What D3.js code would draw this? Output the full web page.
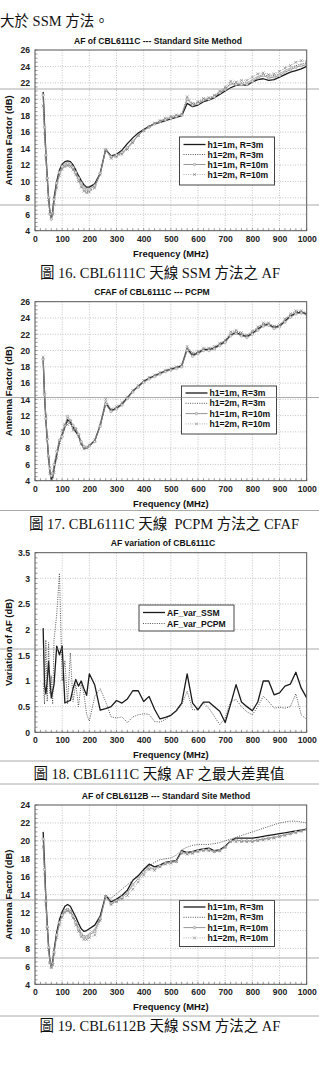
<!DOCTYPE html>
<html lang="zh-Hant">
<head>
<meta charset="UTF-8" />
<script src="https://d3js.org/d3.v7.min.js"></script>
<style>
  body { margin: 0; background: #fff; }
  svg { display: block; }
  .tk text { font-family: "Liberation Sans", Arial, sans-serif; font-weight: bold; font-size: 8.6px; fill: #222; }
  .ttl { font-family: "Liberation Sans", Arial, sans-serif; font-weight: bold; fill: #111; }
  .cap { font-family: "Liberation Serif", "Noto Sans CJK TC", serif; font-size: 14.5px; fill: #111; }
  .lg { font-family: "Liberation Sans", Arial, sans-serif; font-weight: bold; font-size: 8.6px; fill: #111; }
</style>
</head>
<body>
<svg id="page" width="319" height="1068"></svg>
<script>
// frequency points (MHz)
var freqs = [30,35,40,45,50,55,60,65,70,80,90,100,110,120,130,140,150,160,170,180,190,200,
  220,240,260,280,300,320,340,360,380,400,420,440,460,480,500,520,540,560,580,600,620,640,
  660,680,700,720,740,760,780,800,820,840,860,880,900,920,940,960,980,1000];
var xTickValues = [0,100,200,300,400,500,600,700,800,900,1000];

// Fig 16: AF of CBL6111C, standard site method
var c1_h1R3 = [20.9,17.0,13.5,10.5,8.0,6.2,5.5,6.3,8.0,10.0,11.4,12.1,12.4,12.5,12.4,12.0,11.4,10.7,10.1,9.6,9.3,9.3,
  9.7,11.0,13.9,13.1,13.3,13.8,14.6,15.3,15.9,16.3,16.7,17.0,17.2,17.4,17.6,17.8,18.0,19.5,19.1,19.3,19.7,19.9,
  20.2,20.6,21.0,21.4,21.7,21.8,21.7,22.1,22.4,22.5,22.3,22.4,22.7,23.0,23.3,23.5,23.7,24.0];
var c1_h2R3 = [19.3,16.0,13.0,10.3,8.0,6.3,5.6,6.0,7.5,9.5,10.9,11.6,11.9,12.0,11.9,11.5,10.9,10.2,9.5,9.0,8.7,8.8,
  9.3,10.9,13.8,13.0,13.1,13.4,14.0,14.8,15.6,16.3,16.7,17.1,17.3,17.6,17.8,18.0,18.1,20.1,19.4,19.6,20.0,20.1,
  20.4,20.9,21.3,21.9,21.9,22.0,22.0,22.4,22.8,23.0,22.8,22.9,23.1,23.5,23.8,24.1,24.3,24.4];
var c1_h1R10 = [20.5,16.6,13.2,10.4,8.0,6.0,5.4,6.1,7.8,9.8,11.1,11.8,12.1,12.2,12.1,11.7,11.1,10.4,9.8,9.3,9.0,9.0,
  9.5,11.0,13.9,13.0,13.2,13.5,14.1,14.9,15.6,16.2,16.6,17.0,17.3,17.5,17.7,17.9,18.1,20.0,19.3,19.5,19.9,20.0,
  20.3,20.8,21.2,21.9,21.8,21.8,21.8,22.2,22.6,22.9,22.6,22.7,22.9,23.3,23.6,23.9,24.1,24.2];
var c1_h2R10 = [19.2,15.8,12.9,10.2,7.8,6.3,5.8,6.0,7.2,9.2,10.7,11.5,11.8,11.9,11.8,11.4,10.8,10.0,9.3,8.8,8.6,8.7,
  9.2,10.8,13.8,12.8,13.0,13.3,13.9,14.7,15.6,16.2,16.7,17.1,17.4,17.7,17.9,18.1,18.2,20.3,19.5,19.7,20.1,20.2,
  20.5,21.0,21.5,22.2,22.1,22.3,22.3,22.7,23.1,23.2,23.0,23.1,23.4,23.8,24.1,24.5,24.7,24.6];

// Fig 17: CFAF of CBL6111C, PCPM
var c2_h1R3 = [19.0,14.5,11.5,9.0,6.8,5.2,4.2,4.4,5.5,7.2,8.8,9.6,10.6,11.5,11.2,10.6,10.0,9.6,8.6,8.0,8.0,8.3,
  8.9,10.8,13.5,12.6,12.9,13.4,14.2,15.0,15.6,16.2,16.6,16.9,17.2,17.5,17.7,17.9,18.1,20.2,19.4,19.7,20.1,20.1,
  20.3,20.7,21.1,21.9,22.2,21.9,21.7,22.1,22.6,23.1,23.2,22.8,23.0,23.6,24.2,24.6,24.7,24.5];
var c2_h2R3 = [19.1,14.8,11.8,9.2,6.9,5.0,4.0,4.2,5.3,7.0,8.6,9.9,10.9,11.2,11.0,10.3,10.2,9.4,8.4,8.0,8.1,8.4,
  9.0,10.9,13.8,12.7,13.0,13.5,14.2,15.0,15.6,16.2,16.6,16.9,17.2,17.5,17.7,17.9,18.2,20.4,19.6,19.8,20.2,20.2,
  20.4,20.8,21.2,22.1,22.4,22.1,21.8,22.3,22.8,23.3,23.3,22.9,23.1,23.8,24.4,24.8,24.8,24.6];
var c2_h1R10 = [18.9,14.6,11.6,9.1,7.0,5.5,4.6,4.9,6.0,7.6,9.0,9.4,10.8,11.9,11.4,10.8,10.4,9.7,8.8,8.2,8.1,8.3,
  8.8,10.7,13.4,12.5,12.8,13.3,14.1,14.9,15.5,16.1,16.5,16.8,17.1,17.4,17.6,17.8,18.0,20.0,19.3,19.6,20.0,20.0,
  20.2,20.6,21.0,21.8,22.1,21.8,21.6,22.0,22.5,23.0,23.1,22.7,22.9,23.5,24.1,24.5,24.6,24.4];
var c2_h2R10 = [19.2,14.9,12.0,9.3,6.8,4.9,3.9,3.9,5.0,6.8,8.7,10.2,10.9,10.9,11.3,10.2,10.3,9.5,8.5,7.9,8.0,8.4,
  9.0,11.0,14.0,12.8,13.1,13.6,14.3,15.1,15.7,16.3,16.7,17.0,17.3,17.6,17.8,18.0,18.3,20.5,19.7,19.9,20.3,20.3,
  20.5,20.9,21.3,22.3,22.5,22.2,21.9,22.4,22.9,23.4,23.4,23.0,23.2,23.9,24.5,24.9,24.9,24.6];

// Fig 18: AF variation of CBL6111C
var varSSM = [2.03,0.93,0.75,1.0,1.38,1.0,0.67,0.8,0.93,1.68,1.51,1.68,0.57,0.6,0.62,0.85,1.03,0.9,1.0,0.85,0.72,1.14,
  0.92,0.43,0.46,0.5,0.62,0.57,0.65,0.81,0.81,0.6,0.7,0.45,0.26,0.29,0.33,0.42,0.57,1.14,0.57,0.44,0.59,0.59,
  0.5,0.41,0.19,0.55,0.93,0.59,0.5,0.42,0.59,1.0,1.0,0.73,0.77,0.9,0.94,1.17,0.86,0.67];
var varPCPM = [0.95,0.55,1.8,0.6,1.75,0.75,1.1,0.55,1.8,2.3,3.1,1.0,1.4,0.55,1.55,0.6,0.95,0.5,0.95,0.75,0.35,0.22,
  0.7,0.85,0.6,0.3,0.28,0.3,0.19,0.3,0.34,0.36,0.35,0.21,0.2,0.25,0.33,0.41,0.54,0.8,0.44,0.44,0.57,0.47,
  0.31,0.15,0.28,0.6,0.64,0.5,0.4,0.34,0.5,0.7,0.6,0.47,0.49,0.47,0.5,0.75,0.34,0.25];

// Fig 19: AF of CBL6112B, standard site method
var c4_h1R3 = [21.0,17.5,13.6,10.6,8.3,6.6,6.0,6.5,7.8,9.8,11.2,12.1,12.7,12.9,12.7,12.1,11.5,10.8,10.2,9.9,10.0,10.2,
  10.6,11.6,13.9,13.2,13.5,13.9,14.5,15.6,16.1,16.8,17.4,17.1,17.3,17.6,17.7,17.8,18.9,18.7,18.8,19.0,19.1,19.2,
  18.9,19.0,19.4,20.0,20.3,20.3,20.3,20.3,20.4,20.5,20.6,20.7,20.8,20.9,21.0,21.1,21.2,21.3];
var c4_h2R3 = [19.5,16.5,13.2,10.4,8.1,6.5,6.0,6.4,7.6,9.5,10.9,11.8,12.3,12.5,12.3,11.7,11.0,10.3,9.7,9.4,9.4,9.6,
  10.2,11.4,13.8,13.6,14.1,14.6,15.1,15.6,16.2,16.7,17.2,17.6,17.9,18.0,18.1,18.4,19.0,19.3,19.5,19.6,19.6,19.6,
  19.7,19.8,20.0,20.2,20.4,20.6,20.8,21.0,21.2,21.4,21.6,21.8,22.0,22.1,22.2,22.2,22.1,22.0];
var c4_h1R10 = [20.2,16.8,13.3,10.4,8.1,6.4,5.9,6.3,7.6,9.5,10.9,11.7,12.2,12.3,12.1,11.6,10.9,10.2,9.6,9.3,9.3,9.5,
  9.9,11.3,13.8,13.0,13.3,13.7,14.2,15.1,15.8,16.5,17.0,16.9,17.2,17.5,17.6,17.7,18.7,18.6,18.7,18.9,19.0,19.0,
  18.8,18.9,19.3,20.0,20.1,20.0,20.0,20.0,20.1,20.2,20.3,20.4,20.5,20.7,20.8,21.0,21.1,21.3];
var c4_h2R10 = [19.3,16.3,13.0,10.2,7.9,6.4,5.9,6.2,7.3,9.2,10.6,11.5,12.0,12.2,12.0,11.4,10.6,9.9,9.3,9.0,9.0,9.2,
  9.5,11.1,13.8,12.9,13.2,13.5,13.9,14.6,15.4,16.2,16.8,16.7,17.1,17.4,17.5,17.7,18.6,18.5,18.6,18.8,18.9,18.9,
  18.8,18.9,19.3,19.9,19.9,19.9,19.9,19.9,20.0,20.1,20.2,20.3,20.5,20.6,20.8,20.9,21.1,21.3];

var legend4 = ['h1=1m, R=3m', 'h1=2m, R=3m', 'h1=1m, R=10m', 'h1=2m, R=10m'];
var legendVar = ['AF_var_SSM', 'AF_var_PCPM'];

// horizontal scan streaks crossing the page
var scanLines = [89, 205, 397.5, 510.5, 649, 761, 784, 900, 958, 1016];

var svg = d3.select('#page');
svg.append('rect').attr('width', 319).attr('height', 1068).attr('fill', '#fff');

// styles of the four series
var styles = {
  s1: { stroke: '#1a1a1a', width: 1.3, dash: null, marker: null },
  s2: { stroke: '#444', width: 0.9, dash: '1,1.3', marker: null },
  s3: { stroke: '#8a8a8a', width: 0.9, dash: null, marker: 'circle' },
  s4: { stroke: '#9a9a9a', width: 0.8, dash: '1,1.3', marker: 'x' }
};

function drawPanel(p) {
  var x = d3.scaleLinear().domain([0, 1000]).range([p.left, p.right]);
  var y = d3.scaleLinear().domain(p.yDomain).range([p.bottom, p.top]);
  var g = svg.append('g');
  var clipId = 'clip' + p.id;

  g.append('clipPath').attr('id', clipId)
    .append('rect').attr('x', p.left).attr('y', p.top)
    .attr('width', p.right - p.left).attr('height', p.bottom - p.top);

  // grid
  g.append('g').selectAll('line').data(xTickValues.slice(1, -1)).join('line')
    .attr('x1', d => x(d)).attr('x2', d => x(d)).attr('y1', p.top).attr('y2', p.bottom)
    .attr('stroke', '#aaa').attr('stroke-width', 0.7).attr('stroke-dasharray', '1,1.5');
  g.append('g').selectAll('line').data(p.yTicks.slice(1, -1)).join('line')
    .attr('x1', p.left).attr('x2', p.right).attr('y1', d => y(d)).attr('y2', d => y(d))
    .attr('stroke', '#aaa').attr('stroke-width', 0.7).attr('stroke-dasharray', '1,1.5');

  // minor ticks
  g.append('g').selectAll('line').data(d3.range(0, 1001, 20)).join('line')
    .attr('x1', d => x(d)).attr('x2', d => x(d)).attr('y1', p.bottom).attr('y2', p.bottom - 2.5)
    .attr('stroke', '#555').attr('stroke-width', 0.6);
  g.append('g').selectAll('line').data(d3.range(p.yDomain[0], p.yDomain[1] + 1e-9, p.yMinor)).join('line')
    .attr('x1', p.left).attr('x2', p.left + 2.5).attr('y1', d => y(d)).attr('y2', d => y(d))
    .attr('stroke', '#555').attr('stroke-width', 0.6);

  // tick labels
  var ax = g.append('g').attr('class', 'tk').attr('transform', 'translate(0,' + p.bottom + ')')
    .call(d3.axisBottom(x).tickValues(xTickValues).tickSize(0).tickPadding(5).tickFormat(d3.format('d')));
  ax.select('.domain').remove();
  var ay = g.append('g').attr('class', 'tk').attr('transform', 'translate(' + p.left + ',0)')
    .call(d3.axisLeft(y).tickValues(p.yTicks).tickSize(0).tickPadding(5).tickFormat(d => String(d)));
  ay.select('.domain').remove();

  // series
  var line = d3.line().x((d, i) => x(freqs[i])).y(d => y(d));
  var plot = g.append('g').attr('clip-path', 'url(#' + clipId + ')');
  p.series.forEach(function (s) {
    var st = styles[s.style];
    plot.append('path').datum(s.values).attr('d', line).attr('fill', 'none')
      .attr('stroke', st.stroke).attr('stroke-width', st.width)
      .attr('stroke-dasharray', st.dash).attr('stroke-linejoin', 'round');
    if (st.marker === 'circle') {
      plot.append('g').selectAll('circle').data(s.values).join('circle')
        .attr('cx', (d, i) => x(freqs[i])).attr('cy', d => y(d)).attr('r', 1.3)
        .attr('fill', '#ddd').attr('stroke', st.stroke).attr('stroke-width', 0.5);
    } else if (st.marker === 'x') {
      plot.append('g').selectAll('path').data(s.values).join('path')
        .attr('d', (d, i) => {
          var cx = x(freqs[i]), cy = y(d), r = 1.4;
          return 'M' + (cx - r) + ',' + (cy - r) + 'L' + (cx + r) + ',' + (cy + r) +
                 'M' + (cx - r) + ',' + (cy + r) + 'L' + (cx + r) + ',' + (cy - r);
        })
        .attr('stroke', '#777').attr('stroke-width', 0.6);
    }
  });

  // frame
  g.append('rect').attr('x', p.left).attr('y', p.top)
    .attr('width', p.right - p.left).attr('height', p.bottom - p.top)
    .attr('fill', 'none').attr('stroke', '#555').attr('stroke-width', 1);

  // titles
  g.append('text').attr('class', 'ttl').attr('x', p.titleX).attr('y', p.top - 6.5)
    .attr('text-anchor', 'middle').attr('font-size', 8.6).text(p.title);
  g.append('text').attr('class', 'ttl').attr('x', (p.left + p.right) / 2).attr('y', p.bottom + 26)
    .attr('text-anchor', 'middle').attr('font-size', 9.4).text('Frequency (MHz)');
  g.append('text').attr('class', 'ttl')
    .attr('transform', 'translate(12,' + ((p.top + p.bottom) / 2) + ') rotate(-90)')
    .attr('text-anchor', 'middle').attr('font-size', 9.4).text(p.yTitle);

  // legend
  var L = p.legend;
  var lg = g.append('g');
  lg.append('rect').attr('x', L.x).attr('y', L.y).attr('width', L.w).attr('height', L.h)
    .attr('fill', '#fff').attr('stroke', '#444').attr('stroke-width', 1);
  p.series.forEach(function (s, i) {
    var st = styles[s.style];
    var cy = L.y + L.first + i * L.step;
    lg.append('line').attr('x1', L.x + 4).attr('x2', L.x + L.sample).attr('y1', cy).attr('y2', cy)
      .attr('stroke', st.stroke).attr('stroke-width', st.width).attr('stroke-dasharray', st.dash);
    var mx = L.x + 4 + (L.sample - 4) / 2;
    if (st.marker === 'circle') {
      lg.append('circle').attr('cx', mx).attr('cy', cy).attr('r', 1.3)
        .attr('fill', '#ddd').attr('stroke', st.stroke).attr('stroke-width', 0.5);
    } else if (st.marker === 'x') {
      lg.append('path').attr('d', 'M' + (mx - 1.4) + ',' + (cy - 1.4) + 'L' + (mx + 1.4) + ',' + (cy + 1.4) +
        'M' + (mx - 1.4) + ',' + (cy + 1.4) + 'L' + (mx + 1.4) + ',' + (cy - 1.4))
        .attr('stroke', '#777').attr('stroke-width', 0.6);
    }
    lg.append('text').attr('class', 'lg').attr('x', L.x + L.sample + 2).attr('y', cy + 3)
      .text(s.name);
  });
}

var yTicksAF26 = [4,6,8,10,12,14,16,18,20,22,24,26];
var yTicksAF24 = [4,6,8,10,12,14,16,18,20,22,24];
var yTicksVar = [0,0.5,1,1.5,2,2.5,3,3.5];

drawPanel({
  id: 1, left: 35, right: 306.7, top: 50, bottom: 230.7, yDomain: [4, 26], yTicks: yTicksAF26, yMinor: 0.5,
  title: 'AF of CBL6111C --- Standard Site Method', titleX: 158, yTitle: 'Antenna Factor (dB)',
  legend: { x: 179.5, y: 137, w: 95, h: 48, first: 7.5, step: 10, sample: 26 },
  series: [
    { name: legend4[0], values: c1_h1R3, style: 's1' },
    { name: legend4[1], values: c1_h2R3, style: 's2' },
    { name: legend4[2], values: c1_h1R10, style: 's3' },
    { name: legend4[3], values: c1_h2R10, style: 's4' }
  ]
});

drawPanel({
  id: 2, left: 35, right: 306.7, top: 301.7, bottom: 480.7, yDomain: [4, 26], yTicks: yTicksAF26, yMinor: 0.5,
  title: 'CFAF of  CBL6111C --- PCPM', titleX: 152, yTitle: 'Antenna Factor (dB)',
  legend: { x: 181.5, y: 386, w: 95, h: 48, first: 7, step: 10.3, sample: 26 },
  series: [
    { name: legend4[0], values: c2_h1R3, style: 's1' },
    { name: legend4[1], values: c2_h2R3, style: 's2' },
    { name: legend4[2], values: c2_h1R10, style: 's3' },
    { name: legend4[3], values: c2_h2R10, style: 's4' }
  ]
});

drawPanel({
  id: 3, left: 35, right: 306.7, top: 552.7, bottom: 732.3, yDomain: [0, 3.5], yTicks: yTicksVar, yMinor: 0.1,
  title: 'AF variation of CBL6111C', titleX: 163, yTitle: 'Variation of AF (dB)',
  legend: { x: 139, y: 605, w: 95, h: 26, first: 7.5, step: 11, sample: 26 },
  series: [
    { name: legendVar[0], values: varSSM, style: 's1' },
    { name: legendVar[1], values: varPCPM, style: 's2' }
  ]
});

drawPanel({
  id: 4, left: 35, right: 306.7, top: 805, bottom: 984.3, yDomain: [4, 24], yTicks: yTicksAF24, yMinor: 0.5,
  title: 'AF of CBL6112B --- Standard Site Method', titleX: 166, yTitle: 'Antenna Factor (dB)',
  legend: { x: 179.5, y: 900.5, w: 95, h: 46, first: 6.5, step: 10.3, sample: 26 },
  series: [
    { name: legend4[0], values: c4_h1R3, style: 's1' },
    { name: legend4[1], values: c4_h2R3, style: 's2' },
    { name: legend4[2], values: c4_h1R10, style: 's3' },
    { name: legend4[3], values: c4_h2R10, style: 's4' }
  ]
});

// body text and figure captions
svg.append('text').attr('class', 'cap').attr('x', 0).attr('y', 26).text('大於 SSM 方法。');
var captions = [
  { text: '圖 16. CBL6111C 天線 SSM 方法之 AF', x: 160, y: 278 },
  { text: '圖 17. CBL6111C 天線  PCPM 方法之 CFAF', x: 164, y: 528.5 },
  { text: '圖 18. CBL6111C 天線 AF 之最大差異值', x: 159, y: 779 },
  { text: '圖 19. CBL6112B 天線 SSM 方法之 AF', x: 160, y: 1031 }
];
svg.append('g').selectAll('text').data(captions).join('text')
  .attr('class', 'cap').attr('x', d => d.x).attr('y', d => d.y)
  .attr('text-anchor', 'middle').style('white-space', 'pre').text(d => d.text);

svg.append('g').selectAll('line').data(scanLines).join('line')
  .attr('x1', 0).attr('x2', 319).attr('y1', d => d).attr('y2', d => d)
  .attr('stroke', '#888').attr('stroke-opacity', 0.7).attr('stroke-width', 1);
</script>
</body>
</html>
